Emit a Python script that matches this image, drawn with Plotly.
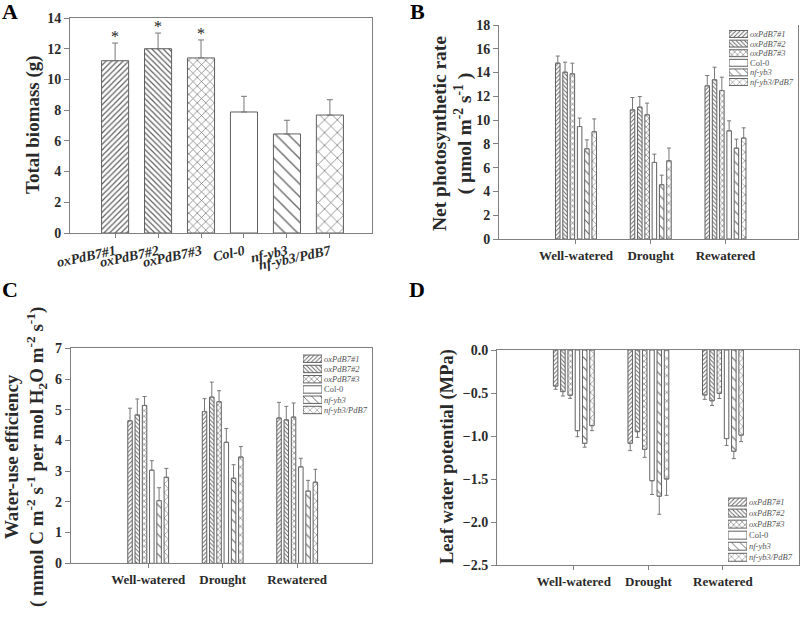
import plotly.graph_objects as go

# ---------------- data ----------------
genotypes = ["oxPdB7#1", "oxPdB7#2", "oxPdB7#3", "Col-0", "nf-yb3", "nf-yb3/PdB7"]
conditions = ["Well-watered", "Drought", "Rewatered"]

# Panel A: total biomass (g)
biomass = [11.22, 12.0, 11.4, 7.88, 6.45, 7.68]
biomass_err = [1.15, 1.02, 1.17, 1.02, 0.89, 1.0]
biomass_sig = ["*", "*", "*", "", "", ""]

# Panel B: net photosynthetic rate, one list per genotype over conditions
pn = {
    "oxPdB7#1": [14.79, 10.86, 12.88],
    "oxPdB7#2": [14.03, 11.09, 13.39],
    "oxPdB7#3": [13.89, 10.45, 12.49],
    "Col-0": [9.46, 6.44, 9.10],
    "nf-yb3": [7.59, 4.56, 7.64],
    "nf-yb3/PdB7": [9.02, 6.58, 8.49],
}
pn_err = {
    "oxPdB7#1": [0.60, 1.04, 0.87],
    "oxPdB7#2": [0.84, 0.89, 1.06],
    "oxPdB7#3": [0.90, 0.98, 1.12],
    "Col-0": [0.71, 0.70, 0.84],
    "nf-yb3": [0.75, 0.81, 0.76],
    "nf-yb3/PdB7": [1.08, 1.07, 0.86],
}

# Panel C: water-use efficiency
wue = {
    "oxPdB7#1": [4.64, 4.94, 4.73],
    "oxPdB7#2": [4.83, 5.41, 4.67],
    "oxPdB7#3": [5.14, 5.26, 4.76],
    "Col-0": [3.03, 3.94, 3.14],
    "nf-yb3": [2.04, 2.77, 2.35],
    "nf-yb3/PdB7": [2.80, 3.46, 2.64],
}
wue_err = {
    "oxPdB7#1": [0.41, 0.42, 0.51],
    "oxPdB7#2": [0.52, 0.49, 0.44],
    "oxPdB7#3": [0.29, 0.36, 0.46],
    "Col-0": [0.31, 0.45, 0.28],
    "nf-yb3": [0.42, 0.44, 0.35],
    "nf-yb3/PdB7": [0.29, 0.34, 0.42],
}

# Panel D: leaf water potential (MPa)
lwp = {
    "oxPdB7#1": [-0.42, -1.085, -0.523],
    "oxPdB7#2": [-0.484, -0.95, -0.59],
    "oxPdB7#3": [-0.527, -1.155, -0.504],
    "Col-0": [-0.938, -1.52, -1.03],
    "nf-yb3": [-1.085, -1.70, -1.178],
    "nf-yb3/PdB7": [-0.88, -1.50, -0.99],
}
lwp_err = {
    "oxPdB7#1": [0.037, 0.085, 0.051],
    "oxPdB7#2": [0.051, 0.066, 0.055],
    "oxPdB7#3": [0.035, 0.093, 0.06],
    "Col-0": [0.07, 0.16, 0.08],
    "nf-yb3": [0.045, 0.21, 0.085],
    "nf-yb3/PdB7": [0.058, 0.19, 0.075],
}

# ---------------- style ----------------
SERIF = "Liberation Serif, Times New Roman, serif"
LINE = "#808080"
FG = "#606060"
TXT = "#2a2a2a"
pat_shape = ["/", "\\", "x", "", "\\", "x"]
pat_size_big = [4, 4, 6, 8, 9, 9]
pat_sol_big = [0.3, 0.3, 0.2, 0.2, 0.14, 0.14]
pat_size_small = [3, 3, 4, 6, 7, 6]
pat_sol_small = [0.3, 0.3, 0.25, 0.2, 0.15, 0.17]
legend_labels = ["<i>oxPdB7#1</i>", "<i>oxPdB7#2</i>", "<i>oxPdB7#3</i>", "Col-0",
                 "<i>nf-yb3</i>", "<i>nf-yb3/PdB7</i>"]

W, H = 800, 617


def px(x):
    return x / W


def py(y):
    return 1 - y / H


fig = go.Figure()

# Panel A
fig.add_trace(go.Bar(
    x=genotypes, y=biomass, width=0.63,
    marker=dict(color="white", line=dict(color=FG, width=1),
                pattern=dict(shape=pat_shape, size=pat_size_big, solidity=pat_sol_big,
                             fgcolor=FG, bgcolor="white", fillmode="replace")),
    error_y=dict(type="data", symmetric=False, array=biomass_err,
                 arrayminus=[0] * len(biomass_err), color="#777", thickness=1, width=3),
    xaxis="x", yaxis="y", showlegend=False))


# Grouped panels
def add_group(data, err, xa, ya, down=False):
    for i, g in enumerate(genotypes):
        e = err[g]
        zero = [0] * len(e)
        fig.add_trace(go.Bar(
            x=conditions, y=data[g], name=g,
            marker=dict(color="white", line=dict(color=FG, width=1),
                        pattern=dict(shape=pat_shape[i], size=pat_size_small[i],
                                     solidity=pat_sol_small[i],
                                     fgcolor=FG, bgcolor="white", fillmode="replace")),
            error_y=dict(type="data", symmetric=False,
                         array=zero if down else e,
                         arrayminus=e if down else zero,
                         color="#777", thickness=1, width=2),
            xaxis=xa, yaxis=ya, showlegend=False))


add_group(pn, pn_err, "x2", "y2")
add_group(wue, wue_err, "x3", "y3")
add_group(lwp, lwp_err, "x4", "y4", down=True)

# Legend keys (one swatch per genotype)
for xa, ya in [("x5", "y5"), ("x6", "y6"), ("x7", "y7")]:
    fig.add_trace(go.Bar(
        y=genotypes, x=[1] * len(genotypes), orientation="h", width=0.72,
        marker=dict(color="white", line=dict(color=FG, width=1),
                    pattern=dict(shape=pat_shape, size=[3, 3, 4, 6, 6, 5],
                                 solidity=pat_sol_small,
                                 fgcolor=FG, bgcolor="white", fillmode="replace")),
        xaxis=xa, yaxis=ya, showlegend=False, hoverinfo="skip"))

tickfont = dict(family=SERIF, size=14, color=TXT, weight="bold")
catfont = dict(family=SERIF, size=13, color=TXT, weight="bold")


def yax(dom, rng, dtick, mirror, fmt=None, anchor=None):
    d = dict(domain=dom, range=rng, dtick=dtick, showline=True, linecolor=LINE, linewidth=1,
             mirror=mirror, ticks="outside", ticklen=5, tickcolor=LINE, tickfont=tickfont,
             showgrid=False, zeroline=False, anchor=anchor, automargin=False)
    if fmt:
        d["tickformat"] = fmt
    return d


def xax(dom, rng, mirror, anchor, font=catfont, angle=None):
    d = dict(domain=dom, range=rng, type="category", showline=True, linecolor=LINE, linewidth=1,
             mirror=mirror, ticks="outside", ticklen=4, tickcolor=LINE, tickfont=font,
             showgrid=False, zeroline=False, anchor=anchor, automargin=False)
    if angle is not None:
        d["tickangle"] = angle
    return d


legfont = dict(family=SERIF, size=8.5, color="#555")


def leg_axes(xdom, ydom, xa, ya):
    return {
        xa: dict(domain=xdom, range=[0, 1], visible=False, automargin=False,
                 anchor=ya.replace("axis", "")),
        ya: dict(domain=ydom, type="category", categoryarray=genotypes, categoryorder="array",
                 autorange="reversed", side="right", showline=False, ticks="",
                 tickvals=genotypes, ticktext=legend_labels, tickfont=legfont,
                 ticklabelstandoff=1, automargin=False,
                 showgrid=False, zeroline=False, anchor=xa.replace("axis", "")),
    }


layout = dict(
    width=W, height=H, margin=dict(l=0, r=0, t=0, b=0, autoexpand=False),
    paper_bgcolor="white", plot_bgcolor="white",
    barmode="group", bargap=0.415, bargroupgap=0.38,
    font=dict(family=SERIF, color=TXT),
    xaxis=xax([px(70), px(372)], [-1.05, 5.98], True, "y",
              font=dict(family=SERIF, size=14, color=TXT, weight="bold", style="italic"), angle=-12),
    yaxis=yax([py(233), py(18)], [0, 14], 2, True, anchor="x"),
    xaxis2=xax([px(499), px(798)], [-1.03, 2.97], False, "y2"),
    yaxis2=yax([py(239), py(25)], [0, 18], 2, True, anchor="x2"),
    xaxis3=xax([px(70.7), px(371.7)], [-1.04, 3.0], True, "y3"),
    yaxis3=yax([py(563.3), py(348.3)], [0, 7], 1, True, anchor="x3"),
    xaxis4=xax([px(497), px(799)], [-1.03, 3.02], True, "y4"),
    yaxis4=yax([py(565), py(350)], [-2.5, 0], 0.5, True, fmt=".1f", anchor="x4"),
)
layout.update(leg_axes([px(729), px(748)], [py(86.8), py(29.2)], "xaxis5", "yaxis5"))
layout.update(leg_axes([px(303), px(322)], [py(415.1), py(353.6)], "xaxis6", "yaxis6"))
layout.update(leg_axes([px(728), px(747)], [py(562.8), py(496.5)], "xaxis7", "yaxis7"))

annotations = []
# significance stars
for g, v, e, s in zip(genotypes, biomass, biomass_err, biomass_sig):
    if s:
        annotations.append(dict(x=g, y=v + e, xref="x", yref="y", text=s, showarrow=False,
                                xanchor="center", yanchor="bottom", yshift=-4,
                                font=dict(family=SERIF, size=16, color="#222")))


def tfont(size):
    return dict(family=SERIF, size=size, color=TXT, weight="bold")


annotations += [
    dict(x=px(33), y=py(125), xref="paper", yref="paper", text="Total biomass (g)",
         textangle=-90, showarrow=False, font=tfont(19), xanchor="center", yanchor="middle"),
    dict(x=px(452), y=py(133), xref="paper", yref="paper",
         text="Net photosynthetic rate<br>( μmol m<sup>-2</sup> s<sup>-1</sup> )",
         textangle=-90, showarrow=False, font=tfont(19.5), xanchor="center", yanchor="middle"),
    dict(x=px(26), y=py(457), xref="paper", yref="paper",
         text="Water-use efficiency<br>( mmol C m<sup>-2</sup> s<sup>-1</sup> per mol H<sub>2</sub>O m<sup>-2</sup> s<sup>-1</sup>)",
         textangle=-90, showarrow=False, font=tfont(19), xanchor="center", yanchor="middle"),
    dict(x=px(448), y=py(457), xref="paper", yref="paper", text="Leaf water potential (MPa)",
         textangle=-90, showarrow=False, font=tfont(18.5), xanchor="center", yanchor="middle"),
]
for lab, x, y in [("A", 10, 12), ("B", 417, 12), ("C", 10, 289), ("D", 417, 289)]:
    annotations.append(dict(x=px(x), y=py(y), xref="paper", yref="paper", text=lab,
                            showarrow=False, xanchor="center", yanchor="middle",
                            font=dict(family=SERIF, size=22, color="#000", weight="bold")))
layout["annotations"] = annotations

fig.update_layout(**layout)
fig.write_html("out.html", config=dict(displayModeBar=False),
               post_script="document.body.style.margin='0';document.body.style.overflow='hidden';")
